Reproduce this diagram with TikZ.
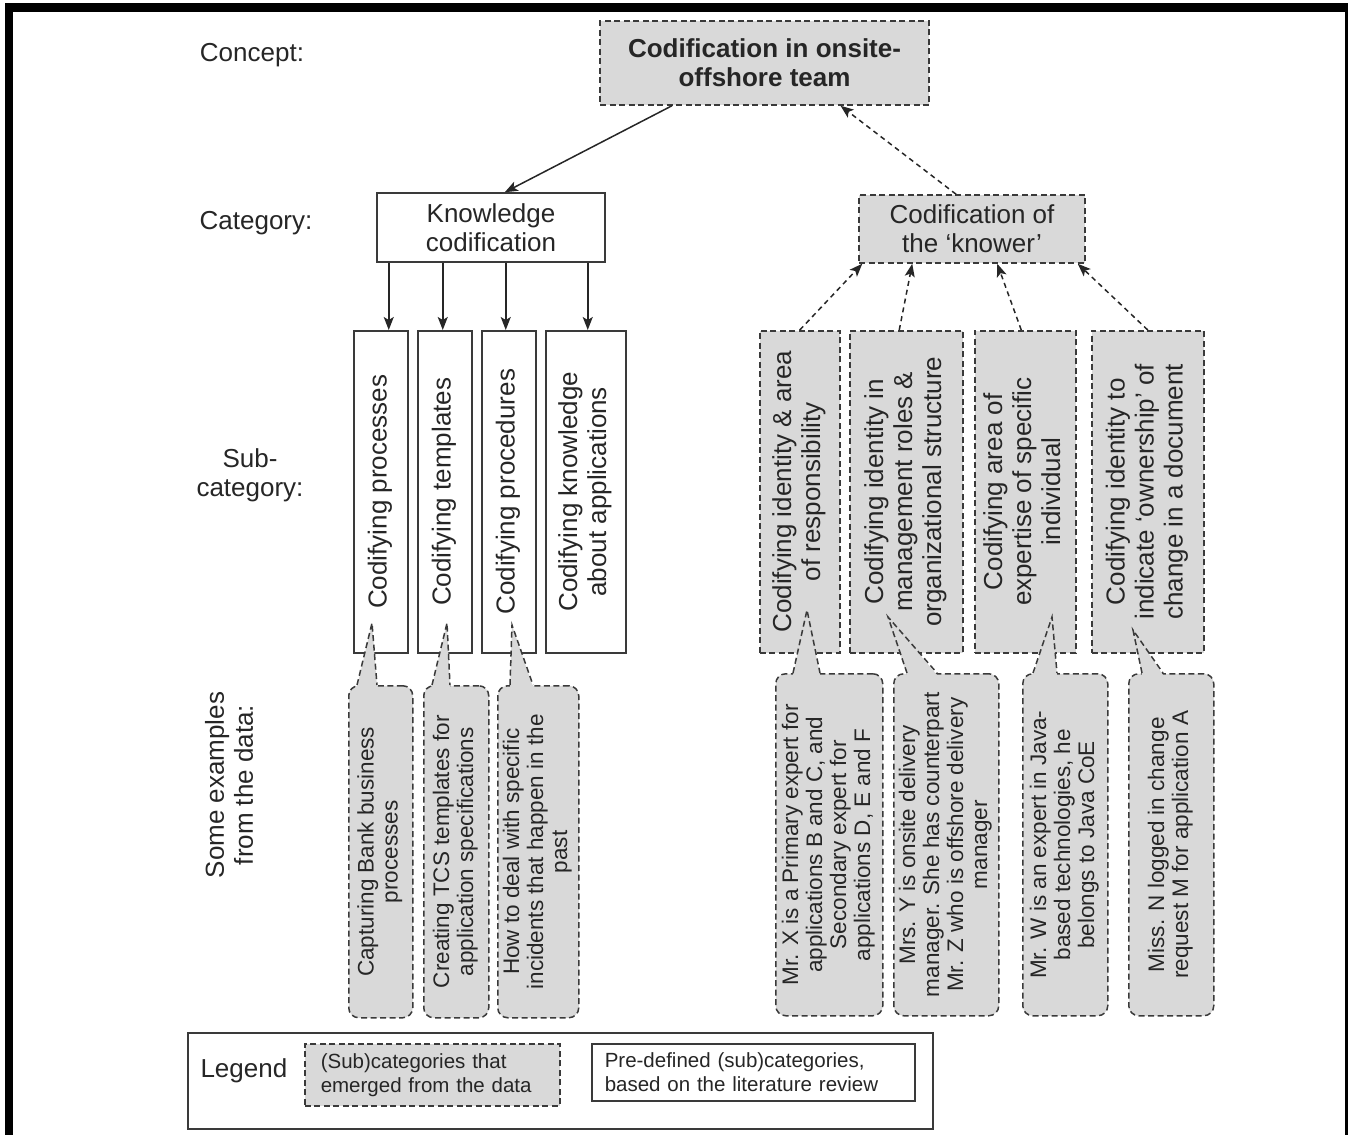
\documentclass[tikz,border=0pt]{standalone}
\usepackage{fontspec}
\usepackage{graphicx}
\setmainfont{Liberation Sans}
\usetikzlibrary{calc,arrows.meta}
\definecolor{lg}{HTML}{D9D9D9}
\definecolor{dg}{HTML}{3A3A3A}
\definecolor{tx}{HTML}{262626}
\newcommand{\mainfs}{\fontsize{26}{29}\selectfont}
\newcommand{\callfs}{\fontsize{22.5}{24}\selectfont}
\newcommand{\legfs}{\fontsize{20.5}{24}\selectfont}
\newcommand{\rot}[1]{\rotatebox{90}{\begin{tabular}{@{}c@{}}#1\end{tabular}}}
\newcommand{\pointer}[4]{%
  \fill[lg] ($(#1.north west)+(#2,2)$) -- (#4) -- ($(#1.north west)+(#3,2)$) -- cycle;
  \draw[ptr] ($(#1.north west)+(#2,0)$) -- (#4) -- ($(#1.north west)+(#3,0)$);}
\tikzset{
  every node/.style={text=tx},
  emerg/.style={draw=dg, fill=lg, line width=1.5pt, dash pattern=on 6pt off 3.5pt, inner sep=0pt},
  predef/.style={draw=dg, fill=white, line width=1.5pt, inner sep=0pt},
  callout/.style={emerg, rounded corners=10pt, font=\callfs},
  ptr/.style={draw=dg, line width=1.5pt, dash pattern=on 6pt off 3.5pt},
  arr/.style={draw=tx, line width=1.5pt, -{Stealth[length=13pt,width=10pt,inset=3pt]}},
  darr/.style={arr, dash pattern=on 5pt off 4pt},
  lab/.style={font=\mainfs, align=center},
}
\begin{document}
\begin{tikzpicture}[x=1pt,y=-1pt]
\useasboundingbox (0,0) rectangle (1348,1135);
% frame
\fill[black] (5,3) rectangle (1348,12);
\fill[black] (5,3) rectangle (13,1135);
\fill[black] (1345,3) rectangle (1348,1135);

% row labels
\node[lab] (lconcept) at (252,55) {Concept:};
\node[lab] (lcat) at (256,223) {Category:};
\node[lab] (lsub) at (250,475) {Sub-\\category:};
\node[lab, rotate=90] (lex) at (229,785) {Some examples\\from the data:};

% concept and categories
\node[emerg, minimum width=329, minimum height=84, font=\bfseries\mainfs, align=center] (C) at (764.5,63) {Codification in onsite-\\offshore team};
\node[predef, minimum width=228, minimum height=69, font=\mainfs, align=center] (K) at (491,227.5) {Knowledge\\codification};
\node[emerg, minimum width=226, minimum height=68, font=\mainfs, align=center] (W) at (972,229) {Codification of\\the `knower'};

% sub-categories (pre-defined)
\node[predef, font=\mainfs, minimum width=54, minimum height=322, anchor=north west] (s1) at (353,330) {\rot{Codifying processes}};
\node[predef, font=\mainfs, minimum width=54, minimum height=322, anchor=north west] (s2) at (417,330) {\rot{Codifying templates}};
\node[predef, font=\mainfs, minimum width=54, minimum height=322, anchor=north west] (s3) at (481,330) {\rot{Codifying procedures}};
\node[predef, font=\mainfs, minimum width=80, minimum height=322, anchor=north west] (s4) at (545,330) {\rot{Codifying knowledge\\about applications}};

% sub-categories (emerged)
\node[emerg, font=\mainfs, minimum width=80, minimum height=322, anchor=north west] (s5) at (759,330) {\rot{Codifying identity \& area\\of responsibility}};
\node[emerg, font=\mainfs, minimum width=113, minimum height=322, anchor=north west] (s6) at (849,330) {\rot{Codifying identity in\\management roles \&\\organizational structure}};
\node[emerg, font=\mainfs, minimum width=101, minimum height=322, anchor=north west] (s7) at (974,330) {\rot{Codifying area of\\expertise of specific\\individual}};
\node[emerg, font=\mainfs, minimum width=112, minimum height=322, anchor=north west] (s8) at (1091,330) {\rot{Codifying identity to\\indicate `ownership' of\\change in a document}};

% connectors
\draw[arr] ($(C.south west)!0.22!(C.south east)$) -- ($(K.north west)!0.56!(K.north east)$);
\draw[darr] ($(W.north west)!0.43!(W.north east)$) -- ($(C.south west)!0.73!(C.south east)$);

\coordinate (a1) at ($(s1.north)+(8,0)$);
\coordinate (a2) at ($(s2.north)+(-2,0)$);
\coordinate (a3) at ($(s3.north)+(-3,0)$);
\coordinate (a4) at ($(s4.north)+(2,0)$);
\draw[arr] (a1 |- K.south) -- (a1);
\draw[arr] (a2 |- K.south) -- (a2);
\draw[arr] (a3 |- K.south) -- (a3);
\draw[arr] (a4 |- K.south) -- (a4);

\draw[darr] (s5.north) -- ($(W.south west)+(4,0)$);
\draw[darr] ($(s6.north)+(-7,0)$) -- ($(W.south west)+(54,0)$);
\draw[darr] ($(s7.north)+(-4,0)$) -- ($(W.south west)+(139,0)$);
\draw[darr] (s8.north) -- ($(W.south east)+(-8,0)$);

% examples (callouts)
\node[callout, minimum width=64, minimum height=332, anchor=north west] (c1) at (348,685) {\rot{Capturing Bank business\\processes}};
\node[callout, minimum width=65, minimum height=332, anchor=north west] (c2) at (423,685) {\rot{Creating TCS templates for\\application specifications}};
\node[callout, minimum width=81, minimum height=332, anchor=north west] (c3) at (497,685) {\rot{How to deal with specific\\incidents that happen in the\\past}};
\node[callout, minimum width=107, minimum height=342, anchor=north west] (c5) at (775,673) {\rot{Mr. X is a Primary expert for\\applications B and C, and\\Secondary expert for\\applications D, E and F}};
\node[callout, minimum width=105, minimum height=342, anchor=north west] (c6) at (893,673) {\rot{Mrs. Y is onsite delivery\\manager. She has counterpart\\Mr. Z who is offshore delivery\\manager}};
\node[callout, minimum width=85, minimum height=342, anchor=north west] (c7) at (1022,673) {\rot{Mr. W is an expert in Java-\\based technologies, he\\belongs to Java CoE}};
\node[callout, minimum width=85, minimum height=342, anchor=north west] (c8) at (1128,673) {\rot{Miss. N logged in change\\request M for application A}};

\coordinate (t1) at (372,623);
\coordinate (t2) at (447,623);
\coordinate (t3) at (512,625);
\coordinate (t5) at (807,610);
\coordinate (t6) at (888,617);
\coordinate (t7) at (1052,617);
\coordinate (t8) at (1133,630);
\pointer{c1}{9}{29}{t1}
\pointer{c2}{9}{27}{t2}
\pointer{c3}{13}{36}{t3}
\pointer{c5}{18}{45}{t5}
\pointer{c6}{14}{44}{t6}
\pointer{c7}{11}{35}{t7}
\pointer{c8}{14}{35}{t8}

% legend
\node[predef, minimum width=745, minimum height=96, anchor=north west] (leg) at (187,1032) {};
\node[font=\mainfs, anchor=west] (legt) at (197,1071) {Legend};
\node[emerg, font=\legfs, align=left, text width=223, inner xsep=16pt, minimum height=62, anchor=north west] (lege) at (304,1043) {(Sub)categories that\\emerged from the data};
\node[predef, font=\legfs, align=left, text width=297, inner xsep=13pt, minimum height=57, anchor=north west] (legp) at (591,1043) {Pre-defined (sub)categories,\\based on the literature review};
\end{tikzpicture}
\end{document}
